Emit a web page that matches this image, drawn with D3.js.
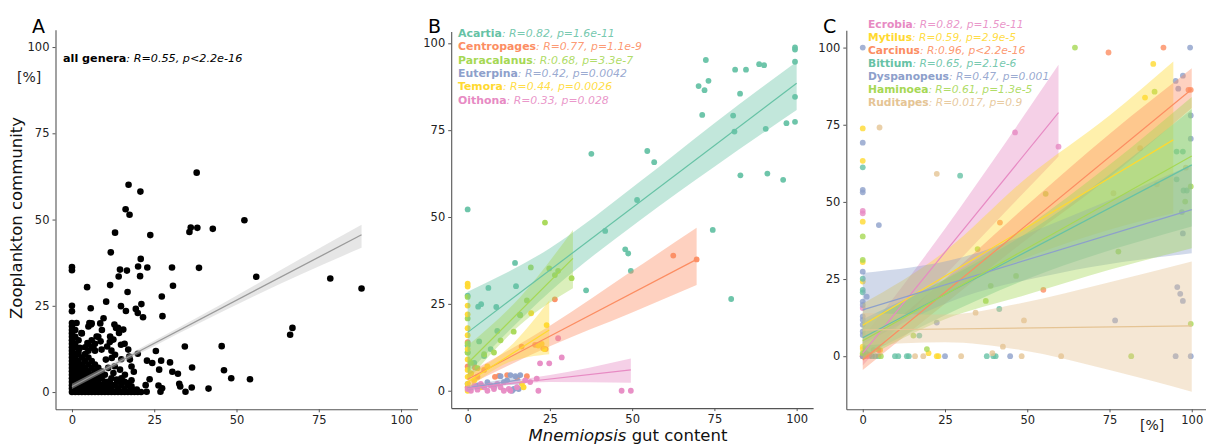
<!DOCTYPE html>
<html><head><meta charset="utf-8">
<script src="https://cdn.jsdelivr.net/npm/d3@7"></script>
<style>body{margin:0;background:#fff}svg{display:block}text{font-family:"DejaVu Sans",sans-serif}</style>
</head><body>
<svg id="c" width="1206" height="446"></svg>
<script>
const tickValues = [0, 25, 50, 75, 100];

// ---------- Panel A: all genera ----------
const aScatter = [
[37.9,63.6],[17.2,60.1],[20.8,58.1],[16.3,53.0],[17.5,51.4],[52.4,49.8],[13.1,46.2],[23.8,45.5],[36.1,47.7],[35.7,46.4],[38.1,47.6],[42.8,47.3],[11.8,40.5],[20.9,38.6],[0,36.2],[0,35.3],[4.6,30.4],[11.6,31.0],[14.6,35.5],[14.2,33.5],[16.7,35.2],[20.1,36.4],[20.7,33.6],[22.9,36.1],[30.4,36.1],[38.6,36.0],[30.7,30.8],[56.0,33.4],[78.5,32.9],[88.0,30.0],[16.9,29.0],[27.3,27.7],[10.4,26.2],[14.9,24.9],[16.4,23.5],[21.1,25.5],[19.4,24.1],[20.0,22.9],[21.6,21.7],[27.5,22.0],[0,25.0],[0,23.4],[5.7,24.3],[9.6,21.4],[45.5,13.3],[34.3,13.2],[66.3,16.6],[67.0,18.6],[25.5,11.9],[36.5,7.1],[46.2,6.3],[48.4,4.0],[54.1,3.7],[41.5,1.0],[36.4,1.3],[34.5,0.1],[29.8,8.6],[30.5,5.9],[32.2,5.3],[32.6,2.4],[32.9,1.6],[27.1,9.1],[24.4,8.4],[22.8,9.1],[26.5,6.5],[23.6,3.7],[22.4,2.0],[22.7,0.1],[26.3,1.9],[27.4,1.1],[26.9,0.1],[20.0,11.1],[18.8,5.9],[17.4,10.3],
[1.4,20],[2.9,17.1],[5.3,20],[5.8,19.6],[4.7,14.2],[2.4,12.8],[7.5,16.1],[8.7,14.7],[9.0,12.3],[6.5,12.8],[10.7,13.2],[10.3,9.4],[12.1,9.9],[13.1,10.8],[11.6,16.1],[12.6,15.2],[14.3,17.1],[13.4,18.6],[15.6,18.1],[14.9,13.7],[17.1,12.3],[17.6,9.4],[18.1,7.4],[14.6,6.5],[16.1,5.0],[13.6,3.6],[15.4,3.2],[17.1,2.6],[18.1,1.7],[19.7,0.7],[11.6,2.6],[9.6,1.6],[8.5,4.5],[12.6,5.5],[18.1,3.4],[12.9,19.6],[14.0,18.6],[9.1,18.0],[8.6,19.9],[6.0,19.9],[12.0,12.0],[11.0,7.0],[13.0,7.5],[15.0,9.5],[16.0,14.0],[11.5,14.5]
];
// dense corner: [y, [x values]]
const aClusterRows = [
[0,[0,1,2,3,4,5,6,7,8,9,10,11,12,13,14,15,16,17,18,19,20,21]],
[1,[0,1,2,3,4,5,6,7,8,9,10,11,12,14,16,18]],
[2,[0,1,2,3,4,5,6,7,8,9,10,12,13,15,17]],
[3,[0,1,2,3,4,5,6,7,8,10,11,14,16]],
[4,[0,1,2,3,4,5,6,7,9,12,15]],
[5,[0,1,2,3,4,5,6,8,10]],
[6,[0,1,2,3,4,5,7,9]],
[7,[0,1,2,3,4,6,8]],
[8,[0,1,2,3,5,7]],
[9,[0,1,2,4,6]],
[10,[0,1,3,5]],
[11,[0,1,2,4]],
[12,[0,2,5,7]],
[13,[0,1,4,6]],
[14,[0,1,5,7]],
[15,[0,2,6]],
[16,[0,1,8]],
[17,[0,3]],
[18,[0,1]],
[19,[0,5]],
[20,[0]]
];
const aFit = [0, 1.6, 88, 45.6];
const aBand = [[0,0.9,2.4],[20,10.9,12.3],[45,23.0,25.2],[70,34.3,38.9],[88,41.8,48.5]];

// ---------- Panel B: copepods ----------
const bNames = ["Acartia","Centropages","Paracalanus","Euterpina","Temora","Oithona"];
const bStats = [": R=0.82, p=1.6e-11",": R=0.77, p=1.1e-9",": R:0.68, p=3.3e-7",": R=0.42, p=0.0042",": R=0.44, p=0.0026",": R=0.33, p=0.028"];
const bColors = ["#66c2a5","#fc8d62","#a6d854","#8da0cb","#ffd92f","#e78ac3"];
const acartiaPts = [[0,52.2],[72.4,95.2],[88.6,94.0],[90.1,93.7],[81.3,92.4],[84.6,92.4],[99.5,98.8],[99.5,98.2],[99.5,94.7],[70.2,87.7],[72.0,86.5],[73.2,89.2],[82.8,85.5],[71.3,79.4],[80.7,79.2],[81.1,74.6],[99.5,84.6],[90.6,75.4],[96.9,77.0],[99.5,77.4],[82.9,62.0],[91.1,62.5],[95.9,60.7],[37.6,68.2],[54.6,69.0],[56.7,65.8],[51.5,54.9],[41.8,46.0],[74.5,46.3],[47.9,40.7],[48.8,39.5],[49.6,34.5],[80.1,26.4],[36.0,28.9],[14.4,36.8],[14.7,30.1],[6.3,29.6],[3.2,24.2],[4.1,24.9],[8.7,24.1],[15.9,21.9],[9.0,17.2],[3.5,14.2],[0,27.4],[0,13],[0,11],[5,10],[7,12],[2,8]];
const centropagesPts = [[62.5,38.9],[69.6,37.8],[26.5,26.3],[23,12.2],[23.7,12],[16.4,12.7],[20.5,13.2],[8.3,4],[9.5,4.3],[2.2,6.7],[0,14],[0,7],[1,5],[3,4],[5,6],[12,4.5],[15,3.8],[18,4.2],[0,1],[4,1.5]];
const paracalanusPts = [[23.5,48.4],[19.2,35.5],[24.8,35.2],[26.5,33.3],[27.5,34.5],[31.6,32.4],[16,21.7],[0,20.8],[0,27],[0,13.6],[0,11],[10,14.5],[8,11],[5,10.5],[14,17],[18,26],[1,8],[3,6.5]];
const euterpinaPts = [[13,4.5],[14.5,4.2],[12,3],[16,4.5],[10,4.2],[6,2.5],[14,0.5],[13.5,0],[15.5,0.5],[0,2],[3,1.5],[8,1],[11,2.5]];
const temoraPts = [[0,30.8],[0,30.0],[0,24.5],[0,22],[0,18],[0,16],[0,12],[0,9],[0,6],[0,4],[0,2],[0,0],[24.0,18.9],[22.5,13.5],[23.3,12],[21.5,13],[17,1],[16.5,2],[4,1],[2,3],[19.3,22.3],[1,5],[6,7]];
const oithonaPts = [[27.5,15.1],[28.6,9.6],[22,7.9],[24.8,7.9],[46.8,0],[49.6,0],[21.5,0],[21,3.5],[19,2.5],[17.5,3],[13,0],[12.5,0.5],[10,1],[8,0.5],[6,0],[5,1],[3,0.3],[2,1.5],[1,0],[0,0.5],[9,2],[7,1.5],[4,2],[11,0],[15,1]];
const bPoints = [acartiaPts, centropagesPts, paracalanusPts, euterpinaPts, temoraPts, oithonaPts];
const bFits = [[0,16.8,100,88.5],[0,3.3,69.6,37.8],[0,7.9,32,38.1],[0,0.8,16,3.2],[0,2.5,24.8,17.5],[0,0.7,49.6,6.0]];
const bBands = [
[[0,5,28.5],[25,28.5,41],[52.4,49.1,60.2],[75,64.5,77],[100,80.8,94.7]],
[[0,1.5,5],[25,12.8,18.7],[50,22.5,34.5],[69.6,30.4,46.9]],
[[0,3,13],[16,19,27],[32,29.5,46.3]],
[[0,0,1.6],[8,1.2,2.8],[16,1.8,4.6]],
[[0,0.5,4.5],[12,8,12],[24.8,10.5,26]],
[[0,0,1.5],[25,2.5,4.5],[49.6,2.3,9.3]]
];

// ---------- Panel C: other taxa ----------
const cNames = ["Ecrobia","Mytilus","Carcinus","Bittium","Dyspanopeus","Haminoea","Ruditapes"];
const cStats = [": R=0.82, p=1.5e-11",": R=0.59, p=2.9e-5",": R:0.96, p<2.2e-16",": R=0.65, p=2.1e-6",": R=0.47, p=0.001",": R=0.61, p=1.3e-5",": R=0.017, p=0.9"];
const cColors = ["#e78ac3","#ffd92f","#fc8d62","#66c2a5","#8da0cb","#a6d854","#e5c494"];
const ecrobiaPts = [[46.3,72.5],[59.5,67.9],[0,47.1],[0,46.3],[0,15.6],[0,0],[1,1],[2,0]];
const mytilusPts = [[88.3,94.7],[85.8,83.8],[0,73.8],[0,63.3],[0,43.6],[0,30.5],[0,24.2],[0,3.1],[0,2.3],[5.3,2],[22.5,0],[23,0],[0,0.5],[20,1]];
const carcinusPts = [[74.7,98.4],[91.4,100],[99,86.3],[99.7,86.3],[41.7,43.3],[54.9,21.5],[4.8,2],[0,0],[1,0],[2,0.5]];
const bittiumPts = [[95.4,66.3],[97.3,66.3],[29.6,58.5],[0,61.2],[0,25.1],[0,21.5],[0,20.7],[41.5,15.3],[17.2,6.7],[9.8,0],[10.8,0],[13.4,0],[14,0],[37.7,0],[39.7,0],[40.4,0],[2.8,0],[3.8,0],[4.8,0],[95.4,57.3],[97.5,53.7],[98.5,53.7]];
const dyspanopeusPts = [[0,100],[99.5,100],[97.3,90.9],[95.1,89.2],[95.9,86.7],[99.7,78],[99.7,70.5],[97,46.7],[97.3,39.8],[4.9,42.5],[0,69.2],[0,53.9],[0,53.1],[0,27.4],[1.2,19.3],[0,17.7],[0,16.6],[0,12.9],[0,11.8],[0,10.2],[0,8],[0,6.9],[76.7,11.6],[95.6,22.4],[96.5,20.2],[97.3,17.9],[22.5,10.9],[25,0],[44.8,0],[95.1,0],[99.7,0],[0,0]];
const haminoeaPts = [[64.5,100],[88.7,85.7],[99.7,55],[98,50.1],[55.6,52.6],[34.9,34.7],[77.7,33.9],[46.6,26],[0,38.8],[0,31.2],[38.9,22.8],[37.4,17.9],[15.4,6.7],[19.5,2.3],[99.7,10.5],[81.6,0],[5.5,0],[0,1]];
const ruditapesPts = [[84.3,67.4],[98.2,61.1],[89.4,55.7],[76.2,52.8],[22.5,59.1],[5.1,74.1],[34.3,14.1],[49,11.6],[42.6,3.1],[39.4,1],[15.9,0],[18.4,0],[29.9,0],[48.3,0],[60.3,0],[3.3,2]];
const cPoints = [ecrobiaPts, mytilusPts, carcinusPts, bittiumPts, dyspanopeusPts, haminoeaPts, ruditapesPts];
const cFits = [[0,1,59.5,78.9],[0,10,94.4,70.1],[0,-1.2,100,86.5],[0,6,100,62],[0,15,100,47.5],[0,5,100,64.9],[0,8.5,100,9.8]];
const cBands = [
[[0,-3,6],[20,20.5,34],[40,43,64],[59.5,64.7,94.4]],
[[0,3,17],[25,20,34],[50,32,58],[75,41,78],[94.4,46.3,95.5]],
[[0,-4.5,2.5],[25,17,25],[50,38,49],[75,58,72],[100,80.4,93.3]],
[[0,0,12],[50,25,40],[100,42,80]],
[[0,4,27],[30,19,32],[60,27,44],[100,33.4,62]],
[[0,-1,11],[25,12,25],[50,20,42],[75,28,62],[100,35,84]],
[[0,3.5,14],[25,4.5,13.5],[48,2,17.2],[75,-4.5,24],[100,-11.5,30.7]]
];

// ---------- drawing ----------
const svg = d3.select("#c");

function makePanel(xr, yd, yr) {
  const x = d3.scaleLinear().domain([-5, 105]).range(xr);
  const y = d3.scaleLinear().domain(yd).range(yr);
  return {x, y};
}
function drawAxes(p) {
  const gy = svg.append("g").attr("transform", `translate(${p.x.range()[0]},0)`)
    .call(d3.axisLeft(p.y).tickValues(tickValues).tickSize(3).tickSizeOuter(0).tickPadding(3));
  const gx = svg.append("g").attr("transform", `translate(0,${p.y.range()[0]})`)
    .call(d3.axisBottom(p.x).tickValues(tickValues).tickSize(3).tickSizeOuter(0).tickPadding(4));
  [gx, gy].forEach(g => {
    g.select(".domain").attr("stroke", "#555").attr("stroke-width", 1.1);
    g.selectAll(".tick line").attr("stroke", "#555");
    g.selectAll(".tick text").attr("fill", "#222").style("font-size", "11.5px").style("font-family", "DejaVu Sans");
  });
}
function drawBand(p, band, color, op) {
  const area = d3.area().x(d => p.x(d[0])).y0(d => p.y(d[1])).y1(d => p.y(d[2])).curve(d3.curveMonotoneX);
  svg.append("path").attr("d", area(band)).attr("fill", color).attr("fill-opacity", op).attr("stroke", "none");
}
function drawFit(p, f, color, w) {
  const line = d3.line().x(d => p.x(d[0])).y(d => p.y(d[1]));
  svg.append("path").attr("d", line([[f[0], f[1]], [f[2], f[3]]])).attr("stroke", color).attr("stroke-width", w).attr("fill", "none");
}
function drawPoints(p, pts, color, r, op) {
  svg.append("g").selectAll("circle").data(pts).join("circle")
    .attr("cx", d => p.x(d[0])).attr("cy", d => p.y(d[1])).attr("r", r)
    .attr("fill", color).attr("fill-opacity", op);
}
function legendLine(x0, y0, name, stat, color, size) {
  const t = svg.append("text").attr("x", x0).attr("y", y0).style("font-size", size + "px").attr("fill", color);
  t.append("tspan").attr("font-weight", "bold").text(name);
  t.append("tspan").attr("font-style", "italic").attr("fill-opacity", 0.9).text(stat);
}

// Panel A
const pA = makePanel([55.5, 417.5], [-5, 105], [409.3, 29.8]);
drawAxes(pA);
const aCluster = aClusterRows.flatMap(r => r[1].map(xv => [xv, r[0]]));
drawPoints(pA, aCluster.concat(aScatter), "#000", 3.3, 1);
drawBand(pA, aBand, "#c8c8c8", 0.45);
drawFit(pA, aFit, "#9a9a9a", 1.3);
const tA = svg.append("text").attr("x", 63).attr("y", 62).style("font-size", "11.2px").attr("fill", "#000");
tA.append("tspan").attr("font-weight", "bold").text("all genera");
tA.append("tspan").attr("font-style", "italic").text(": R=0.55, p<2.2e-16");

// Panel B
const pB = makePanel([451.2, 813.1], [-5, 103.4], [408.1, 31.5]);
drawAxes(pB);
bPoints.forEach((pts, i) => drawPoints(pB, pts, bColors[i], 2.9, 0.95));
bBands.forEach((b, i) => drawBand(pB, b, bColors[i], 0.4));
bFits.forEach((f, i) => drawFit(pB, f, bColors[i], 1.2));
bNames.forEach((n, i) => legendLine(458, 37 + i * 13.3, n, bStats[i], bColors[i], 10.9));

// Panel C
const pC = makePanel([846.3, 1208.2], [-17.2, 105.6], [409.3, 30.3]);
drawAxes(pC);
cPoints.forEach((pts, i) => drawPoints(pC, pts, cColors[i], 2.9, 0.8));
cBands.forEach((b, i) => drawBand(pC, b, cColors[i], 0.4));
cFits.forEach((f, i) => drawFit(pC, f, cColors[i], 1.2));
cNames.forEach((n, i) => legendLine(868, 27.7 + i * 13.1, n, cStats[i], cColors[i], 10.7));

// Titles and labels
svg.append("text").attr("x", 32).attr("y", 33).style("font-size", "19px").text("A");
svg.append("text").attr("x", 428).attr("y", 33).style("font-size", "19px").text("B");
svg.append("text").attr("x", 823).attr("y", 33).style("font-size", "19px").text("C");
svg.append("text").attr("x", 17).attr("y", 82).style("font-size", "14px").attr("fill", "#222").text("[%]");
svg.append("text").attr("x", 1140).attr("y", 430).style("font-size", "14px").attr("fill", "#222").text("[%]");
svg.append("text").attr("transform", "translate(22,218) rotate(-90)").attr("text-anchor", "middle")
  .style("font-size", "16.5px").attr("fill", "#111").text("Zooplankton community");
const xt = svg.append("text").attr("x", 628).attr("y", 441).attr("text-anchor", "middle").style("font-size", "16.5px").attr("fill", "#111");
xt.append("tspan").attr("font-style", "italic").text("Mnemiopsis");
xt.append("tspan").text(" gut content");
</script>
</body></html>
